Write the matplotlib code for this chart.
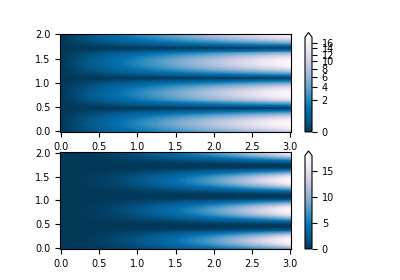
import numpy as np
import matplotlib
matplotlib.use("Agg")
import matplotlib.pyplot as plt
import matplotlib.colors as colors

# Grid extents and field definition (Z = (1 + sin(freq*Y)) * X**power)
x_range = [0, 3]
y_range = [0, 2]
n_points = 100
freq = 10.0
power = 2
gamma = 0.5
top_cbar_ticks = [0, 2, 4, 6, 8, 10, 12, 14, 16]

X, Y = np.mgrid[x_range[0]:x_range[1]:complex(0, n_points),
                y_range[0]:y_range[1]:complex(0, n_points)]
Z1 = (1 + np.sin(Y * freq)) * X ** power

fig = plt.figure(figsize=(4.0, 2.8), dpi=100)
ax0 = fig.add_axes([0.15, 0.529, 0.5775, 0.35])
ax1 = fig.add_axes([0.15, 0.111, 0.5775, 0.346])
cax0 = fig.add_axes([0.7625, 0.529, 0.0175, 0.355])
cax1 = fig.add_axes([0.7625, 0.111, 0.0175, 0.35])

pcm = ax0.pcolormesh(X, Y, Z1, norm=colors.PowerNorm(gamma=gamma),
                     cmap='PuBu_r', shading='auto')
cb = fig.colorbar(pcm, cax=cax0, extend='max')
cb.set_ticks(top_cbar_ticks)
cb.ax.tick_params(labelsize=7)

pcm = ax1.pcolormesh(X, Y, Z1, cmap='PuBu_r', shading='auto')
cb = fig.colorbar(pcm, cax=cax1, extend='max')
cb.ax.tick_params(labelsize=7)

for a in (ax0, ax1):
    a.tick_params(labelsize=7)
    a.set_xticks([0, 0.5, 1.0, 1.5, 2.0, 2.5, 3.0])
    a.set_yticks([0, 0.5, 1.0, 1.5, 2.0])

fig.savefig("out.png", dpi=100)
